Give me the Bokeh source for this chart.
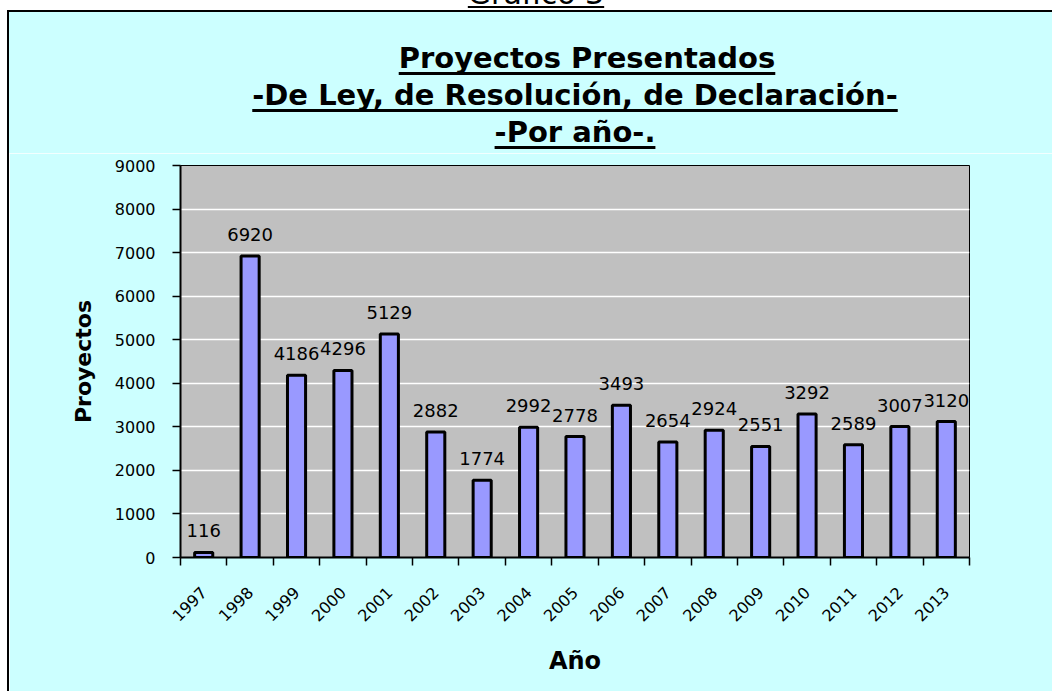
from bokeh.plotting import figure
from bokeh.models import ColumnDataSource, LabelSet, FixedTicker, Div, Range1d
from bokeh.layouts import column, row
from bokeh.core.properties import value
from bokeh.embed import file_html
from bokeh.resources import INLINE

# ---- data ----
years = ["1997", "1998", "1999", "2000", "2001", "2002", "2003", "2004", "2005",
         "2006", "2007", "2008", "2009", "2010", "2011", "2012", "2013"]
proyectos = [116, 6920, 4186, 4296, 5129, 2882, 1774, 2992, 2778, 3493,
             2654, 2924, 2551, 3292, 2589, 3007, 3120]
y_ticks = [0, 1000, 2000, 3000, 4000, 5000, 6000, 7000, 8000, 9000]
title_lines = ["Proyectos Presentados",
               "-De Ley, de Resolución, de Declaración-",
               "-Por año-."]
caption = "Gráfico 3"
x_label = "Año"
y_label = "Proyectos"

n = len(years)
centers = [i + 0.5 for i in range(n)]
bounds = [float(i) for i in range(n + 1)]
src = ColumnDataSource(dict(x=centers, y=proyectos, lab=[str(v) for v in proyectos]))

BG = "#CCFFFF"
TF = "DejaVu Sans"
W = 1043

# ---- main chart ----
p = figure(width=W, height=538, output_backend="svg", toolbar_location=None,
           x_range=Range1d(0, n), y_range=Range1d(0, 9000),
           min_border_left=171, min_border_right=83, min_border_top=12,
           min_border_bottom=134,
           background_fill_color="#C0C0C0", border_fill_color=BG,
           outline_line_color="black", outline_line_width=1, margin=0)
p.title.visible = False

p.vbar(x="x", top="y", bottom=0, width=0.39, source=src,
       fill_color="#9999FF", line_color="black", line_width=3)

p.add_layout(LabelSet(x="x", y="y", text="lab", source=src, y_offset=15,
                      text_align="center", text_baseline="alphabetic",
                      text_font=value(TF), text_font_size=value("18px"),
                      text_color="black"))

p.xgrid.visible = False
p.ygrid.grid_line_color = "white"
p.ygrid.grid_line_width = 1.5
p.yaxis.ticker = FixedTicker(ticks=y_ticks)
p.yaxis.minor_tick_line_color = None
p.yaxis.major_tick_in = 0
p.yaxis.major_tick_out = 8
p.yaxis.major_tick_line_width = 1.5
p.yaxis.axis_line_width = 2
p.yaxis.major_label_standoff = 17
p.yaxis.major_label_text_font = TF
p.yaxis.major_label_text_font_size = "16px"
p.yaxis.major_label_text_color = "black"
p.yaxis.axis_label = y_label
p.yaxis.axis_label_text_font = TF
p.yaxis.axis_label_text_font_size = "22px"
p.yaxis.axis_label_text_font_style = "bold"
p.yaxis.axis_label_text_color = "black"
p.yaxis.axis_label_standoff = 16

p.xaxis.ticker = FixedTicker(ticks=centers, minor_ticks=bounds)
p.xaxis.major_label_overrides = {c: y for c, y in zip(centers, years)}
p.xaxis.major_tick_in = 0
p.xaxis.major_tick_out = 0
p.xaxis.minor_tick_in = 0
p.xaxis.minor_tick_out = 8
p.xaxis.minor_tick_line_width = 1.5
p.xaxis.minor_tick_line_color = "black"
p.xaxis.axis_line_width = 2
p.xaxis.major_label_orientation = 0.785398
p.xaxis.major_label_standoff = 24
p.xaxis.major_label_text_font = TF
p.xaxis.major_label_text_font_size = "16px"
p.xaxis.major_label_text_color = "black"
p.xaxis.axis_label = x_label
p.xaxis.axis_label_text_font = TF
p.xaxis.axis_label_text_font_size = "24px"
p.xaxis.axis_label_text_font_style = "bold"
p.xaxis.axis_label_text_color = "black"
p.xaxis.axis_label_standoff = 17

# ---- title block (HTML, underlined) ----
ul = ("text-decoration:underline;text-decoration-thickness:3px;"
      "text-underline-offset:4px;text-decoration-skip-ink:none;")
lines_html = []
for i, t in enumerate(title_lines):
    shift = "position:relative;left:12px;" if i == 0 else ""
    lines_html.append('<span style="%s%s">%s</span>' % (ul, shift, t))
title_html = ('<div style="margin-left:89px;width:954px;padding-top:28px;text-align:center;'
              'font-family:\'DejaVu Sans\';font-weight:bold;font-size:29px;'
              'line-height:37px;color:black;white-space:nowrap;">'
              + "<br>".join(lines_html) + "</div>")
title_div = Div(text=title_html, width=W, height=141, margin=0,
                styles={"background-color": BG})

top_line = Div(text="", width=W, height=2, margin=0,
               styles={"background-color": "black"})
inner = column(top_line, title_div, p, spacing=0, margin=0)

left_white = Div(text="", width=7, height=681, margin=0,
                 styles={"background-color": "white"})
left_black = Div(text="", width=2, height=681, margin=0,
                 styles={"background-color": "black"})
framed = row(left_white, left_black, inner, spacing=0, margin=0)

cap_html = ('<div style="margin-left:20px;width:1032px;text-align:center;'
            'font-family:\'DejaVu Sans\';'
            'font-size:30px;line-height:34px;color:black;white-space:nowrap;'
            'text-decoration:underline;text-decoration-thickness:2px;'
            'text-underline-offset:2px;text-decoration-skip-ink:none;">'
            + caption + "</div>")
cap = Div(text=cap_html, width=1052, height=33, margin=(-23, 0, 0, 0))

layout = column(cap, framed, spacing=0, margin=0)
open("out.html", "w").write(file_html(layout, INLINE))
